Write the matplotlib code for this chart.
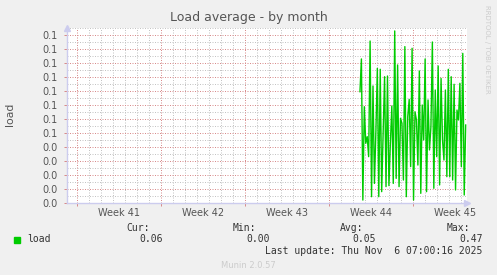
import numpy as np
import matplotlib
matplotlib.use("Agg")
import matplotlib.pyplot as plt
from matplotlib.transforms import blended_transform_factory

# ---------------- data (days since Mon Oct 6 2025, load values)
t_start, t_end = 23.58, 32.39
load = [0.0795, 0.1029, 0.0021, 0.0688, 0.0426, 0.0474, 0.0331, 0.1157, 0.0045,
        0.0836, 0.0140, 0.0510, 0.0962, 0.0045, 0.0955, 0.0081, 0.0498, 0.0902,
        0.0117, 0.0907, 0.0124, 0.0426, 0.0693, 0.0140, 0.1229, 0.0176, 0.0986,
        0.0117, 0.0605, 0.0569, 0.0164, 0.1117, 0.0045, 0.0617, 0.0740, 0.0260,
        0.1105, 0.0021, 0.0652, 0.0593, 0.0271, 0.0943, 0.0069, 0.0700, 0.0450,
        0.1029, 0.0081, 0.0736, 0.0379, 0.0545, 0.1150, 0.0105, 0.0807, 0.0331,
        0.0979, 0.0129, 0.0890, 0.0450, 0.0307, 0.0807, 0.0188, 0.0955, 0.0188,
        0.0902, 0.0164, 0.0848, 0.0093, 0.0664, 0.0593, 0.0855, 0.0260, 0.1069,
        0.0057, 0.0557]
t = np.linspace(t_start, t_end, len(load))

week_labels = ["Week 41", "Week 42", "Week 43", "Week 44", "Week 45"]
week_starts = [0, 7, 14, 21, 28]
ytick_vals = [0.00, 0.01, 0.02, 0.03, 0.04, 0.05, 0.06, 0.07, 0.08, 0.09, 0.10, 0.11, 0.12]
ytick_labels = ["0.0", "0.0", "0.0", "0.0", "0.0", "0.1", "0.1", "0.1", "0.1", "0.1", "0.1", "0.1", "0.1"]

legend_name = "load"
stat_names = ["Cur:", "Min:", "Avg:", "Max:"]
stat_vals = ["0.06", "0.00", "0.05", "0.47"]
last_update = "Last update: Thu Nov  6 07:00:16 2025"

# ---------------- figure
W, H = 497, 275
fig = plt.figure(figsize=(W / 100, H / 100), dpi=100, facecolor="#f0f0f0")
ax = fig.add_axes([67 / W, 1 - 203 / H, 400 / W, 175 / H])
ax.set_facecolor("white")

ax.set_xlim(-10 / 12, 390 / 12)
ax.set_ylim(0, 0.125)

# grid: 1px on / 1px off dots
dot = (0, (1, 1.5))
minor_c = "#c4c4c4"
major_c = "#d88c8c"
gkw = dict(lw=0.72, ls=dot, zorder=0)
for d in range(0, 33):
    if d not in week_starts:
        ax.axvline(d, color=minor_c, **gkw)
for y in np.arange(0.005, 0.126, 0.01):
    ax.axhline(y, color=minor_c, **gkw)
for d in week_starts:
    ax.axvline(d, color=major_c, **gkw)
for y in ytick_vals[1:]:
    ax.axhline(y, color=major_c, **gkw)

ax.plot(t, load, color="#00cc00", lw=1.0, zorder=3)

# axes / ticks
for s in ["top", "right"]:
    ax.spines[s].set_visible(False)
for s in ["left", "bottom"]:
    ax.spines[s].set_color("#ccccee")
    ax.spines[s].set_linewidth(1)
ax.plot([0], [1.0], marker="^", color="#ccccee", ms=4, transform=ax.transAxes, clip_on=False)
ax.plot([1.0], [0], marker=">", color="#ccccee", ms=4, transform=ax.transAxes, clip_on=False)

ax.set_yticks(ytick_vals)
ax.set_yticklabels(ytick_labels)
ax.tick_params(axis="y", length=2, width=0.72, color=major_c, labelsize=7, labelcolor="#555555", pad=5)
ax.set_xticks(week_starts)
ax.set_xticklabels([])
ax.tick_params(axis="x", length=2, width=0.72, color=major_c)

tr = blended_transform_factory(ax.transData, fig.transFigure)
for ws, lab in zip(week_starts, week_labels):
    ax.text(ws + 3.5, 1 - 213 / H, lab, transform=tr, ha="center", va="center",
            fontsize=7, color="#555555")

# texts
fig.text(248.5 / W, 1 - 17 / H, "Load average - by month", ha="center", va="center",
         fontsize=9, color="#555555")
fig.text(10 / W, 1 - 114 / H, "load", rotation=90, ha="center", va="center",
         fontsize=7.8, color="#555555")
fig.text(487 / W, 1 - 5 / H, "RRDTOOL / TOBI OETIKER", rotation=270, ha="center", va="top",
         fontsize=5, color="#cccccc")
fig.text(248 / W, 1 - 265 / H, "Munin 2.0.57", ha="center", va="center",
         fontsize=6, color="#cccccc")

# legend
mono = "DejaVu Sans Mono"
fig.patches.append(plt.Rectangle((14 / W, 1 - 243 / H), 6 / W, 6 / H, color="#00cc00",
                                 transform=fig.transFigure, figure=fig))
fig.text(27 / W, 1 - 239.5 / H, legend_name, ha="left", va="center", fontsize=7,
         family=mono, color="#333333")
name_x = [150, 256, 363, 470]
val_x = [163, 269.5, 376, 482.5]
for nx, vx, n, v in zip(name_x, val_x, stat_names, stat_vals):
    fig.text(nx / W, 1 - 228 / H, n, ha="right", va="center", fontsize=7, family=mono, color="#333333")
    fig.text(vx / W, 1 - 239.5 / H, v, ha="right", va="center", fontsize=7, family=mono, color="#333333")
fig.text(482.5 / W, 1 - 251 / H, last_update, ha="right", va="center", fontsize=7,
         family=mono, color="#333333")

fig.savefig("out.png", dpi=100, facecolor=fig.get_facecolor())
